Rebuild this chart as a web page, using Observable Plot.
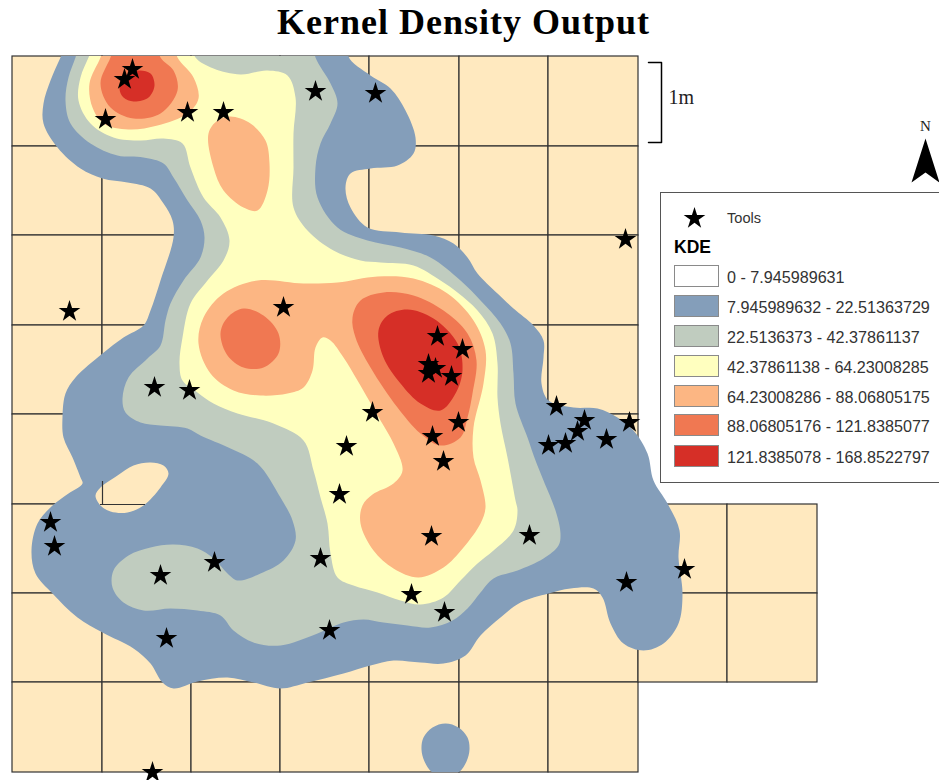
<!DOCTYPE html>
<html>
<head>
<meta charset="utf-8">
<script src="https://cdn.jsdelivr.net/npm/d3@7"></script>
<script src="https://cdn.jsdelivr.net/npm/@observablehq/plot@0.6"></script>
<style>
html,body{margin:0;padding:0;background:#fff;}
#page{position:relative;width:939px;height:780px;overflow:hidden;}
#title{position:absolute;left:277px;top:0;height:55px;white-space:nowrap;font:bold 36px/44px "Liberation Serif",serif;letter-spacing:1px;color:#000;}
#chart{position:absolute;left:0;top:55px;}
#chart svg{display:block;background:transparent;}
#legend{position:absolute;left:660px;top:192px;width:285px;height:291px;box-sizing:border-box;background:#fff;border:1.5px solid #555;font-family:"Liberation Sans",Arial,sans-serif;color:#333;}
#legend .row{position:absolute;left:13px;height:22px;white-space:nowrap;}
#legend .sw{position:absolute;left:0;top:0;width:45px;height:22px;box-sizing:border-box;border:1.5px solid #8a8a8a;}
#legend .lb{position:absolute;left:53px;top:1px;line-height:22px;font-size:16.15px;}
#legend .tools{position:absolute;left:66px;top:15px;font-size:14.6px;line-height:20px;}
#legend .kde{position:absolute;left:13px;top:43px;font-size:17.5px;font-weight:bold;line-height:22px;color:#000;}
#legend .star{position:absolute;left:21px;top:13px;}
</style>
</head>
<body>
<div id="page">
  <div id="title">Kernel Density Output</div>
  <div id="chart"></div>
  <div id="legend"></div>
</div>
<script>
const classLabels = [
  "0 - 7.945989631",
  "7.945989632 - 22.51363729",
  "22.5136373 - 42.37861137",
  "42.37861138 - 64.23008285",
  "64.23008286 - 88.06805175",
  "88.06805176 - 121.8385077",
  "121.8385078 - 168.8522797"
];
const classColors = ["#ffffff", "#849eba", "#c0ccbf", "#ffffbf", "#fcb683", "#f07852", "#d62f27"];
const gridColumns = [12, 102, 191, 280, 369, 459, 548, 638];
const gridRows = [56, 146, 235, 325, 414, 504, 593, 682, 772];
const extraColumns = [638, 727, 817];
const extraRows = [504, 593, 682];

const tools = [
  [132,69],[124,79],[105,119],[187,112],[223,112],[315,91],[375,93],[625,239],[69,311],[154,387],[189,390],
  [283,307],[437,336],[462,349],[428,364],[435,368],[428,373],[451,376],[372,412],[458,422],[432,436],[346,446],
  [443,461],[339,494],[556,406],[584,420],[577,431],[565,443],[548,445],[606,439],[629,422],[50,522],[54,546],
  [160,575],[214,562],[320,558],[166,638],[329,630],[152,772],[431,536],[529,535],[411,594],[444,612],[626,582],[684,569]
];

const band1Outer = [
  [352,40],[348,56],[370,75],[390,88],[405,110],[415,137],[413,153],[397,165],[370,168],[350,173],[345,187],[350,207],[367,227],
  [400,232],[433,235],[453,243],[467,257],[477,273],[497,293],[513,308],[533,325],[543,340],[543,357],[541,383],[548,400],
  [573,407],[597,408],[617,417],[633,430],[647,453],[653,480],[667,503],[679,530],[678,557],[682,593],[678,623],[663,643],[643,650],
  [623,643],[610,623],[602,597],[593,588],[570,588],[548,593],[520,602],[500,617],[480,635],[465,655],[443,663],[420,662],[393,660],
  [370,665],[343,673],[307,682],[280,688],[253,682],[227,677],[197,681],[173,688],[162,682],[150,663],[133,648],[102,632],[77,617],
  [52,593],[35,573],[31,550],[37,523],[52,505],[68,493],[82,483],[80,477],[72,457],[63,437],[62,417],[65,393],[75,377],[102,353],
  [123,337],[143,325],[150,310],[160,280],[173,237],[172,220],[163,203],[150,188],[127,182],[102,178],[80,168],[57,147],[43,123],
  [43,103],[50,80],[60,57],[68,40],[210,30]
];
const band1Hole = [
  [95,495],[100,487],[117,475],[133,465],[150,462],[163,465],[168,473],[160,487],[143,505],[127,512],[110,511],[100,505]
];
const band1Spot = [
  [445,723],[458,727],[467,737],[469,749],[466,761],[458,772],[445,776],[432,772],[424,761],[421,749],[423,737],[432,727]
];
const band2 = [
  [312,40],[315,57],[330,83],[337,103],[330,123],[320,143],[315,167],[317,197],[337,227],[367,240],[400,247],[430,257],
  [460,280],[480,300],[500,323],[510,343],[513,373],[515,403],[527,437],[535,460],[543,480],[555,510],[560,533],[558,545],
  [543,558],[517,570],[493,578],[480,592],[467,608],[452,620],[430,627],[407,625],[383,622],[363,619],[343,622],[317,633],
  [280,645],[253,642],[233,630],[220,615],[197,610],[170,608],[143,610],[123,602],[112,587],[113,570],[128,555],[150,547],
  [173,544],[197,548],[213,558],[227,573],[237,580],[260,573],[283,560],[295,540],[292,520],[280,497],[257,463],[230,448],
  [200,435],[187,428],[160,425],[140,422],[125,412],[122,398],[128,377],[147,358],[160,345],[165,320],[170,303],[183,280],
  [200,257],[204,237],[200,220],[187,200],[173,177],[163,163],[143,157],[117,155],[90,143],[70,123],[65,100],[68,77],[75,57],
  [80,40],[200,32]
];
const band3 = [
  [190,40],[195,57],[213,68],[240,74],[267,70],[287,75],[295,97],[293,133],[293,167],[293,207],[307,230],[333,250],[360,260],
  [380,262],[413,265],[440,280],[457,292],[477,310],[492,333],[497,363],[497,397],[500,423],[507,457],[515,500],[517,510],
  [513,530],[493,550],[477,563],[460,580],[443,597],[420,604],[400,600],[377,592],[353,585],[337,577],[330,553],[327,523],
  [320,497],[313,470],[303,440],[273,423],[237,413],[213,403],[197,392],[182,380],[179,363],[182,337],[190,303],[207,280],
  [223,260],[229,240],[220,217],[203,197],[190,167],[182,143],[163,138],[140,140],[113,137],[90,123],[78,100],[80,77],[88,57],
  [95,40],[140,32]
];
const band4Top = [
  [172,40],[177,57],[193,77],[198,98],[187,113],[157,125],[128,129],[103,123],[92,107],[89,83],[100,57],[106,40],[140,32]
];
const band4Drop = [
  [230,116],[250,123],[265,140],[269,163],[267,190],[257,210],[243,207],[223,190],[213,167],[208,133],[217,120]
];
const band4Main = [
  [257,280],[303,283],[337,282],[377,276],[413,278],[447,293],[473,320],[485,350],[483,383],[473,427],[473,457],[480,480],
  [485,507],[480,523],[463,547],[443,567],[418,577],[393,568],[373,550],[360,523],[362,505],[372,494],[393,483],[402,470],
  [393,443],[380,420],[357,380],[343,357],[330,340],[322,337],[315,347],[312,370],[303,387],[287,393],[260,395],[233,390],
  [210,373],[198,343],[203,317],[223,293]
];
const band5Top = [
  [156,40],[160,57],[173,70],[177,90],[160,113],[133,118],[110,107],[100,83],[110,57],[116,40],[140,32]
];
const band5Left = [
  [220,333],[227,317],[243,308],[263,315],[278,333],[278,353],[263,367],[243,367],[227,355]
];
const band5Main = [
  [352,317],[360,300],[383,292],[413,295],[443,310],[467,333],[476,360],[472,393],[467,417],[460,437],[440,445],[420,433],
  [397,407],[370,367],[355,337]
];
const band6Top = [
  [138,70],[150,73],[154,85],[148,97],[133,101],[123,97],[119,88],[125,75]
];
const band6Main = [
  [378,330],[387,315],[407,309],[433,318],[457,343],[462,370],[455,393],[440,410],[420,403],[400,383],[383,357]
];

const scaleBar = [[648,62],[661,62],[661,142],[648,142]];
const northArrow = [[925,138],[939,182],[925,172],[911,182]];
const cells = [];
for (let i = 0; i + 1 < gridColumns.length; i++) for (let j = 0; j + 1 < gridRows.length; j++)
  cells.push({x1: gridColumns[i], x2: gridColumns[i+1], y1: gridRows[j], y2: gridRows[j+1]});
for (let i = 0; i + 1 < extraColumns.length; i++) for (let j = 0; j + 1 < extraRows.length; j++)
  cells.push({x1: extraColumns[i], x2: extraColumns[i+1], y1: extraRows[j], y2: extraRows[j+1]});

const BEIGE = "#ffe9bf", GRID = "#333";
const px = d => d[0], py = d => d[1];
const band = (pts, cls) => Plot.line(pts, {x: px, y: py, fill: () => classLabels[cls], stroke: "none", curve: "catmull-rom-closed", clip: true});

const chart = Plot.plot({
  width: 939, height: 725,
  marginTop: 1, marginBottom: 8, marginLeft: 0, marginRight: 0,
  x: {domain: [0, 939], range: [0, 939], axis: null},
  y: {domain: [56, 772], range: [1, 717], axis: null},
  color: {type: "ordinal", domain: classLabels, range: classColors},
  style: {background: "transparent"},
  marks: [
    Plot.rect(cells, {x1: "x1", x2: "x2", y1: "y1", y2: "y2", fill: BEIGE, stroke: GRID, strokeWidth: 1.2}),
    band(band1Outer, 1),
    Plot.line(band1Hole, {x: px, y: py, fill: BEIGE, stroke: "none", curve: "catmull-rom-closed"}),
    Plot.ruleX([gridColumns[1]], {y1: 481, y2: 505, stroke: GRID, strokeWidth: 1.2}),
    Plot.ruleY([gridRows[5]], {x1: 100, x2: 145, stroke: GRID, strokeWidth: 1.2}),
    band(band1Spot, 1),
    band(band2, 2),
    band(band3, 3),
    band(band4Top, 4), band(band4Drop, 4), band(band4Main, 4),
    band(band5Top, 5), band(band5Left, 5), band(band5Main, 5),
    band(band6Top, 6), band(band6Main, 6),
    Plot.dot(tools, {x: px, y: py, symbol: "star", r: 6.8, fill: "#000", stroke: "none"}),
    Plot.line(scaleBar, {x: px, y: py, stroke: "#000", strokeWidth: 1.5}),
    Plot.text(["1m"], {x: 668, y: 97, text: d => d, textAnchor: "start", fontFamily: "Liberation Serif", fontSize: 20, fill: "#222"}),
    Plot.line(northArrow, {x: px, y: py, fill: "#000", stroke: "none", curve: "linear-closed"}),
    Plot.text(["N"], {x: 925, y: 126, text: d => d, fontFamily: "Liberation Serif", fontSize: 15, fill: "#222"})
  ]
});
document.getElementById("chart").appendChild(chart);

const legend = document.getElementById("legend");
const starSvg = Plot.plot({
  width: 24, height: 24, margin: 0, axis: null,
  x: {domain: [0, 1], range: [0, 24]}, y: {domain: [0, 1], range: [24, 0]},
  style: {background: "transparent"},
  marks: [Plot.dot([[0.5, 0.5]], {x: px, y: py, symbol: "star", r: 6.8, fill: "#000", stroke: "none"})]
});
starSvg.classList.add("star");
legend.appendChild(starSvg);
legend.insertAdjacentHTML("beforeend", `<div class="tools">Tools</div><div class="kde">KDE</div>`);
const rowTops = [72, 102, 132, 162, 192, 221, 252];
classLabels.forEach((label, i) => {
  const row = document.createElement("div");
  row.className = "row";
  row.style.top = rowTops[i] + "px";
  row.innerHTML = `<div class="sw" style="background:${classColors[i]}"></div><div class="lb">${label}</div>`;
  legend.appendChild(row);
});
</script>
</body>
</html>
